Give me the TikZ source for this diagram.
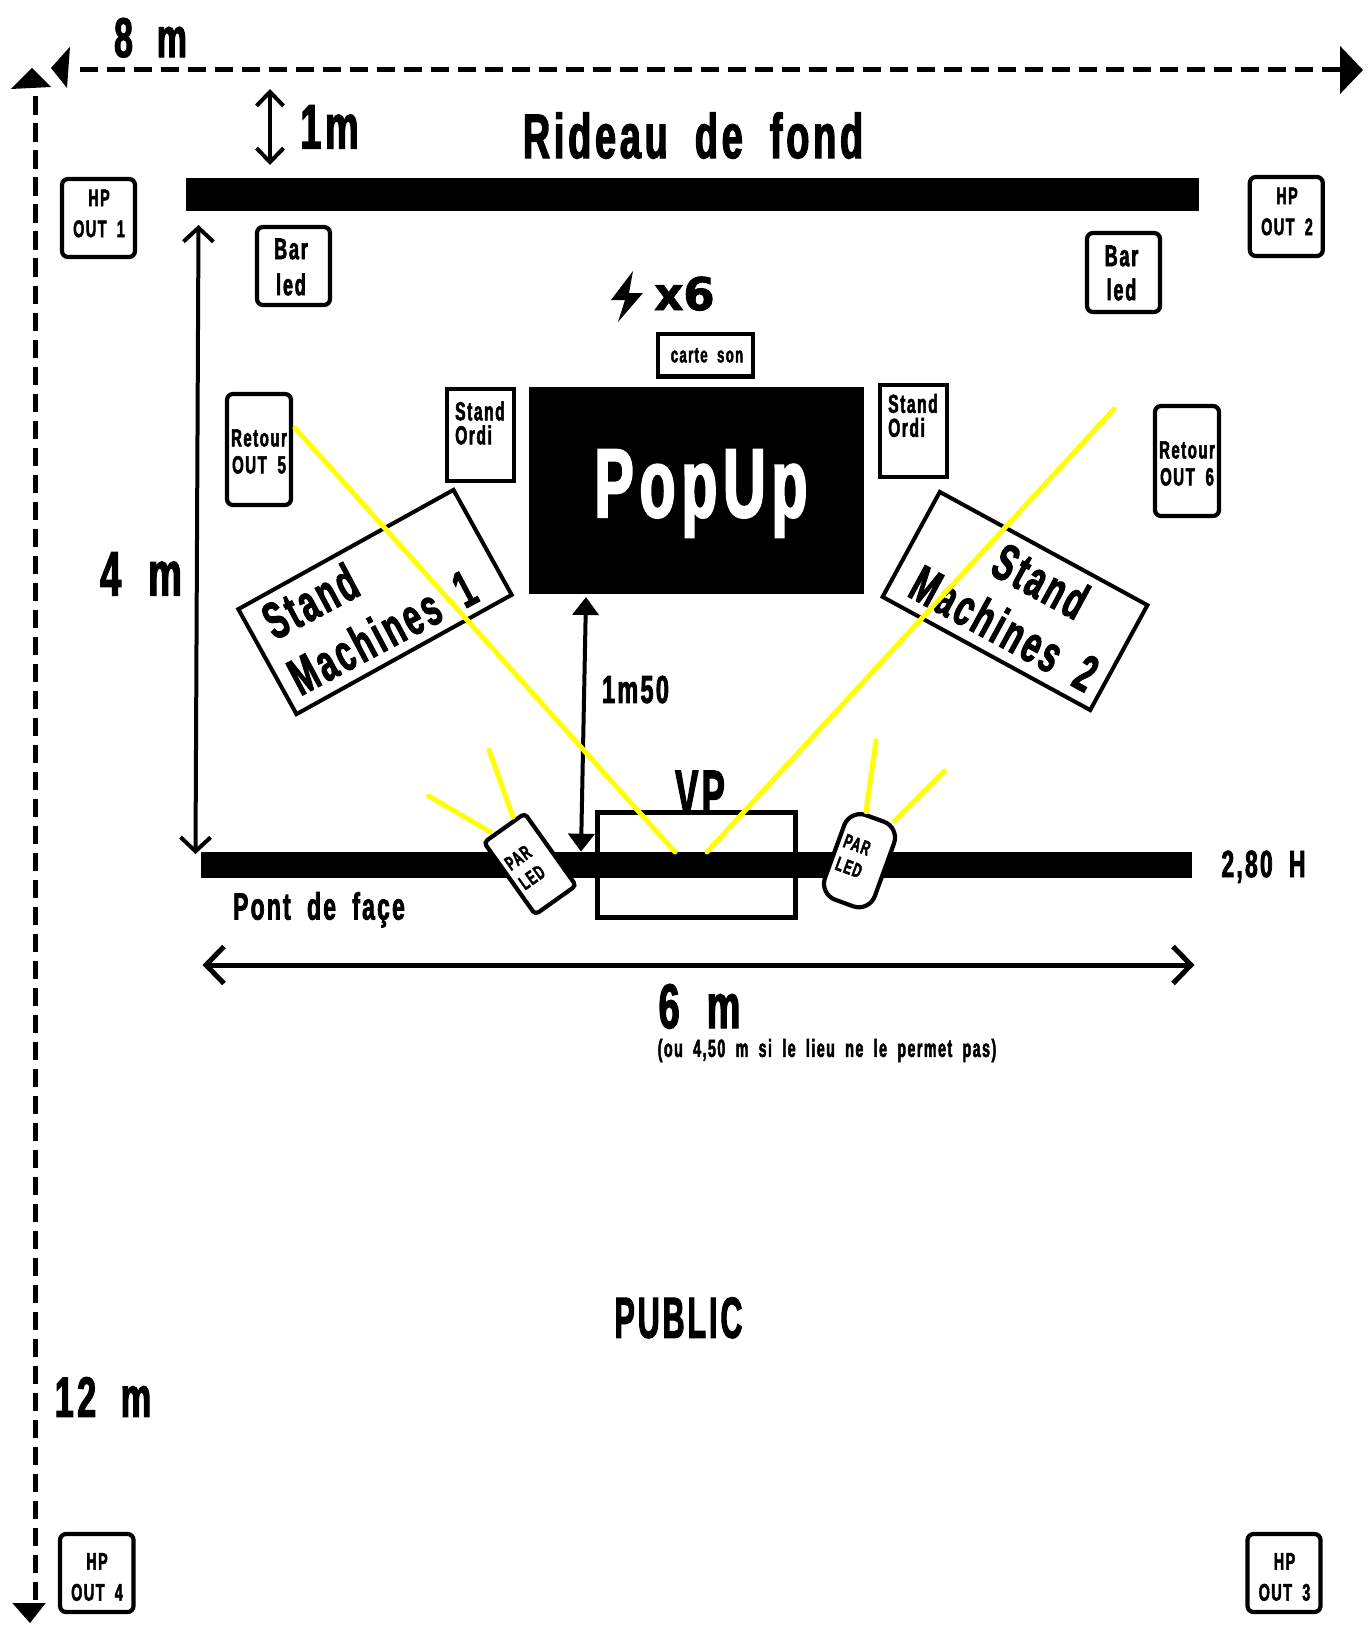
\documentclass[tikz,border=0pt]{standalone}
\usepackage{fontspec}
\usetikzlibrary{arrows.meta}
\newfontfamily\cond[FakeStretch=0.6,WordSpace=1.9,FakeBold=2,LetterSpace=6]{Liberation Sans}
\newfontfamily\wideb[FakeBold=2]{DejaVu Sans}
\tikzset{
  lab/.style={inner sep=0pt,font=\cond\bfseries\fontsize{#1}{#1}\selectfont,text height={0.716*#1 pt},text depth=0pt},
  labtwo/.style 2 args={inner sep=0pt,align=center,font=\cond\bfseries\fontsize{#1}{#2}\selectfont},
  lableft/.style 2 args={inner sep=0pt,align=left,font=\cond\bfseries\fontsize{#1}{#2}\selectfont},
  rbox/.style={draw=black,fill=white,line width=4.2pt,rounded corners=6pt,inner sep=0pt},
  sbox/.style={draw=black,fill=white,line width=4.4pt,inner sep=0pt},
  bar/.style={fill=black,draw=none,inner sep=0pt},
  ray/.style={draw=yellow,line width=5pt,line cap=round},
  dim/.style={draw=black,line width=3.5pt},
  barb/.style={{Straight Barb[length=14pt,width=27pt,line width=4pt]}-{Straight Barb[length=14pt,width=27pt,line width=4pt]}},
}
\definecolor{yellow}{RGB}{255,255,0}
\begin{document}
\begin{tikzpicture}[x=1pt,y=-1pt]
\useasboundingbox[fill=white] (0,0) rectangle (1367,1629);
% coordinates of free connector ends
\coordinate (wL) at (79.5,70);
\coordinate (wR) at (1363,70);
\coordinate (hT) at (35.3,96.5);
\coordinate (hB) at (35.3,1603);
\coordinate (oneT) at (270,89);
\coordinate (oneB) at (270,165);
\coordinate (fourT) at (198.5,225);
\coordinate (fourB) at (195.5,854);
\coordinate (sixL) at (202.5,965);
\coordinate (sixR) at (1194.5,965);
\coordinate (cT) at (586,597);
\coordinate (cB) at (581,851.7);
% overall dimensions
\draw[line width=5pt,dash pattern=on 18pt off 9pt,-{Triangle[length=23pt,width=47pt]}] (wL) -- (wR);
\draw[line width=4.7pt,dash pattern=on 18.5pt off 8.5pt] (hT) -- (hB);
\fill (51,68) -- (70,46.7) -- (67,88) -- cycle;
\fill (32,68) -- (11,89) -- (51,87) -- cycle;
\fill (12.3,1603) -- (45.7,1603) -- (30,1623) -- cycle;
\node[lab=56] (tEight) at (150.5,37) {8 m};
\node[lab=63] (tOne) at (329.5,126) {1m};
\node[lab=63] (tRideau) at (693,135.5) {Rideau de fond};
\node[lab=63] (tFour) at (141,573) {4 m};
\node[lab=57] (tTwelve) at (103,1396.5) {12 m};
\node[lab=58] (tPublic) at (678.5,1317) {\scalebox{.87}[1]{PUBLIC}};
% bars
\node[bar,minimum width=1012.8pt,minimum height=32.4pt] (curtain) at (692.4,194.5) {};
\draw[dim,barb] (oneT) -- (oneB);
\draw[line width=4pt,{Straight Barb[length=14pt,width=30pt,line width=4pt]}-{Straight Barb[length=14pt,width=30pt,line width=4pt]}] (fourT) -- (fourB);
\draw[line width=5pt,{Straight Barb[length=18pt,width=37pt,line width=5pt]}-{Straight Barb[length=18pt,width=37pt,line width=5pt]}] (sixL) -- (sixR);
% HP boxes
\node[rbox,minimum width=73pt,minimum height=78pt] (hpa) at (98.5,218) {};
\node[labtwo={24}{31}] (hpat) at (99,213.5) {HP\\OUT 1};
\node[rbox,minimum width=73pt,minimum height=79pt] (hpb) at (1286.3,216.5) {};
\node[labtwo={24}{31}] (hpbt) at (1287,211.5) {HP\\OUT 2};
\node[rbox,minimum width=73pt,minimum height=78pt] (hpc) at (1284,1573) {};
\node[labtwo={24}{31}] (hpct) at (1284.5,1577) {HP\\OUT 3};
\node[rbox,minimum width=73.5pt,minimum height=78pt] (hpd) at (96.8,1573) {};
\node[labtwo={24}{31}] (hpdt) at (97,1577) {HP\\OUT 4};
% Bar led
\node[rbox,minimum width=73pt,minimum height=78pt] (bla) at (293.5,266) {};
\node[labtwo={30}{36}] (blat) at (291,267) {Bar\\led};
\node[rbox,minimum width=73pt,minimum height=79pt] (blb) at (1123.5,272.5) {};
\node[labtwo={30}{34}] (blbt) at (1121.5,273) {Bar\\led};
% Retour
\node[rbox,minimum width=64pt,minimum height=111pt] (rta) at (259,449.5) {};
\node[labtwo={25}{27}] (rtat) at (259,451.5) {Retour\\OUT 5};
\node[rbox,minimum width=64pt,minimum height=110pt] (rtb) at (1187,461) {};
\node[labtwo={25}{27}] (rtbt) at (1187,463.5) {Retour\\OUT 6};
% Stand Ordi
\node[sbox,minimum width=66.6pt,minimum height=91.6pt] (soa) at (480.5,435) {};
\node[lableft={26}{24},anchor=west] (soat) at (455,423) {Stand\\Ordi};
\node[sbox,minimum width=66.6pt,minimum height=91.6pt] (sob) at (913.5,431) {};
\node[lableft={26}{24},anchor=west] (sobt) at (888,415.5) {Stand\\Ordi};
% carte son, PopUp
\node[sbox,minimum width=94.6pt,minimum height=42.6pt] (carte) at (705.5,355.3) {};
\node[lab=22] (carteT) at (707,354.5) {carte son};
\node[bar,minimum width=335.4pt,minimum height=207pt] (popup) at (696.3,490.5) {};
\node[lab=98,text=white] (tPopUp) at (701,482) {PopUp};
% bolt and x6
\fill (633,271) -- (611,300) -- (625,300) -- (618,322) -- (643,293) -- (629,293) -- cycle;
\node[inner sep=0pt,font=\wideb\bfseries\fontsize{45}{45}\selectfont,text height=33pt,text depth=0pt] (tSix) at (684.5,293.5) {x6};
% Stand machines
\node[draw=black,fill=white,line width=4pt,minimum width=246pt,minimum height=120pt,rotate=29,inner sep=0pt] (sma) at (375,602) {};
\node[lab=52,rotate=28] (smatA) at (310,601) {Stand};
\node[lab=52,rotate=28] (smatB) at (382,632) {Machines 1};
\node[draw=black,fill=white,line width=4pt,minimum width=236.5pt,minimum height=119.5pt,rotate=-28.6,inner sep=0pt] (smb) at (1015,601) {};
\node[lab=52,rotate=-28.6] (smbtA) at (1040.7,580.7) {Stand};
\node[lab=52,rotate=-28.6] (smbtB) at (1004.5,628) {Machines 2};
% VP
\node[lab=64] (tVP) at (700,792) {\scalebox{.9}[1]{VP}};
\node[sbox,minimum width=198pt,minimum height=105pt] (vp) at (696.3,865) {};
\node[bar,minimum width=991pt,minimum height=26.3pt] (bridge) at (696,865) {};
\node[lab=38] (tPont) at (319,906) {Pont de façe};
\node[lab=38] (tH) at (1263.5,863.5) {2,80 H};
\node[lab=39] (tOneFifty) at (635.5,689) {1m50};
\node[lab=63] (tSixm) at (699.5,1005.5) {6 m};
\node[lab=25] (tNote) at (827,1048) {\scalebox{.955}[1]{(ou 4,50 m si le lieu ne le permet pas)}};
% PAR LED
\node[rbox,minimum width=50pt,minimum height=88.5pt,rounded corners=4pt,rotate=35.4] (para) at (530,864) {};
\node[labtwo={20}{24},rotate=35.4] (parat) at (525,867.5) {PAR\\LED};
\node[rbox,minimum width=53pt,minimum height=90pt,rounded corners=17pt,rotate=-20] (parb) at (859.5,860.7) {};
\node[labtwo={20}{24},rotate=-20] (parbt) at (853,856) {PAR\\LED};
% arrow 1m50
\draw[line width=4pt,{Triangle[length=18pt,width=26pt]}-{Triangle[length=18pt,width=26pt]}] (cT) -- (cB);
% yellow rays
\coordinate (yaS) at (295,428);
\coordinate (yaE) at (675,852);
\coordinate (ybS) at (1114,409);
\coordinate (ybE) at (707,852);
\path[ray] (yaS) -- (yaE);
\path[ray] (ybS) -- (ybE);
\coordinate (r1a) at (489,750); \coordinate (r1b) at (513,817);
\coordinate (r2a) at (428.6,796); \coordinate (r2b) at (490,831.7);
\coordinate (r3a) at (876,740.7); \coordinate (r3b) at (866,811.7);
\coordinate (r4a) at (944.5,771); \coordinate (r4b) at (894.7,820.7);
\path[ray] (r1a) -- (r1b);
\path[ray] (r2a) -- (r2b);
\path[ray] (r3a) -- (r3b);
\path[ray] (r4a) -- (r4b);
\end{tikzpicture}
\end{document}
